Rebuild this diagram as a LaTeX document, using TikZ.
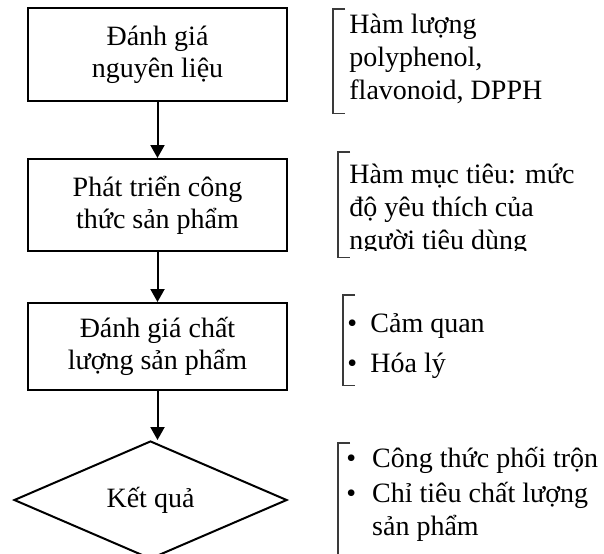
\documentclass[tikz,border=0pt]{standalone}
\usepackage{fontspec}
\setmainfont{Liberation Serif}
\usepackage{xcolor}
\usepackage{tikz}
\usetikzlibrary{arrows.meta,positioning,shapes.geometric}
\definecolor{BracketGray}{HTML}{3A3A3A}

\begin{document}
\begin{tikzpicture}[
  font=\fontsize{14pt}{16pt}\selectfont,
  box/.style={draw,line width=1pt,fill=white,minimum width=129.5pt,minimum height=46pt,inner sep=3pt,align=center},
  result/.style={diamond,draw,line width=1pt,fill=white,minimum width=136.5pt,minimum height=59pt,inner sep=0pt},
  note/.style={anchor=north west,inner ysep=0pt,font=\fontsize{14pt}{16.5pt}\selectfont},
  brk/.style={draw=BracketGray,line width=0.6pt},
  arrow/.style={-{Triangle[width=7pt,length=6.5pt]},line width=1pt}
]
  \useasboundingbox (0,0) rectangle (302pt,-276.5pt);

  \node[box, minimum height=46.5pt] (nguyenlieu) at (78.75pt,-27.25pt) {Đánh giá\\nguyên liệu};
  \node[box, below=28pt of nguyenlieu] (congthuc) {Phát triển công\\thức sản phẩm};
  \node[box, minimum height=43.5pt, below=25pt of congthuc] (chatluong) {Đánh giá chất\\lượng sản phẩm};
  \node[result, below=24.5pt of chatluong, xshift=-3.5pt] (ketqua) {Kết quả};

  \draw[arrow] (nguyenlieu) -- (congthuc);
  \draw[arrow] (congthuc) -- (chatluong);
  \draw[arrow] (chatluong.south) -- (chatluong.south |- ketqua.north);

  % notes beside the steps
  \node[note, inner xsep=8pt, text height=12pt, text depth=40pt] (hamluong) at (166.5pt,-4.5pt)
    {\begin{tabular}[t]{@{}l@{}}Hàm lượng\\polyphenol,\\flavonoid, DPPH\end{tabular}};
  \begin{scope}
    \clip (160pt,-70pt) rectangle (302pt,-125pt);
    \node[note, inner xsep=5.5pt, text height=15.5pt, text depth=37pt] (muctieu) at (169pt,-76pt)
      {\begin{tabular}[t]{@{}l@{}}Hàm mục tiêu: mức\\độ yêu thích của\\người tiêu dùng\end{tabular}};
  \end{scope}
  \node[note, inner xsep=2pt, text height=18.5pt, text depth=26.5pt] (kiemtra) at (171.5pt,-147.5pt)
    {\begin{tabular}[t]{@{}l@{\hspace{6.6pt}}l@{}}•&Cảm quan\\[3.5pt]•&Hóa lý\end{tabular}};
  \node[note, inner xsep=4pt, text height=12pt, text depth=52pt] (ketluan) at (169pt,-221.5pt)
    {\begin{tabular}[t]{@{}l@{\hspace{8pt}}l@{}}•&Công thức phối trộn\\[1pt]•&Chỉ tiêu chất lượng\\&sản phẩm\end{tabular}};

  \foreach \n in {hamluong,muctieu,kiemtra,ketluan}
    \draw[brk] ([xshift=6pt]\n.north west) -- (\n.north west) -- (\n.south west) -- ([xshift=6pt]\n.south west);
\end{tikzpicture}
\end{document}
